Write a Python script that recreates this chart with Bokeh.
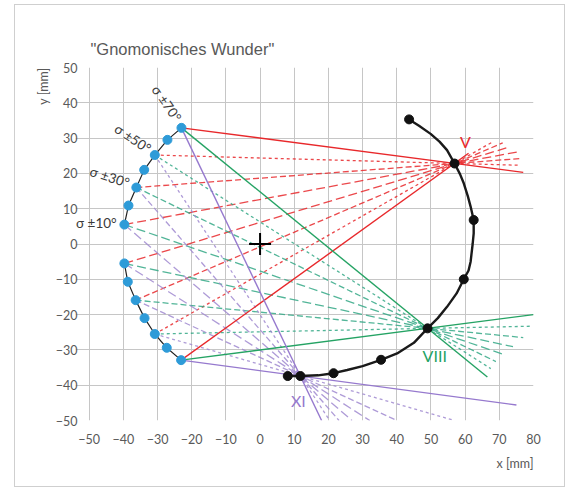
import math
from bokeh.plotting import figure
from bokeh.models import FixedTicker, Label, Title
from bokeh.embed import file_html
from bokeh.resources import INLINE

# ---------------- data ----------------
sigma_deg = [70, 60, 50, 40, 30, 20, 10]
upper_x = [-23.0, -27.1, -30.8, -33.9, -36.2, -38.5, -39.7]
upper_y = [32.9, 29.5, 25.2, 21.0, 16.0, 10.9, 5.5]
lower_x = [-39.7, -38.7, -36.4, -33.8, -30.8, -27.3, -23.1]
lower_y = [-5.5, -10.7, -15.9, -21.0, -25.5, -29.4, -32.9]

curve_x = [43.6, 46.5, 49.9, 52.5, 54.7, 56.9, 58.5, 59.6, 60.8, 61.6, 62.5,
           62.5, 62.2, 61.6, 61.0, 59.6, 57.5, 54.7, 52.0, 49.0, 45.0, 40.1,
           35.4, 30.0, 25.5, 21.5, 17.0, 11.8, 8.1]
curve_y = [35.3, 33.5, 31.2, 29.0, 26.6, 22.8, 19.8, 17.2, 13.5, 10.6, 6.8,
           3.0, 0.0, -5.0, -7.5, -10.0, -14.0, -17.8, -21.0, -23.9, -28.0, -31.0,
           -32.8, -34.6, -35.7, -36.6, -37.2, -37.4, -37.4]
dot_x = [43.6, 56.9, 62.5, 59.6, 49.0, 35.4, 21.5, 11.8, 8.1]
dot_y = [35.3, 22.8, 6.8, -10.0, -23.9, -32.8, -36.6, -37.4, -37.4]

hour_names = ["V", "VIII", "XI"]
hour_x = [56.9, 49.0, 11.8]
hour_y = [22.8, -23.9, -37.4]

# rays start at sigma +70, +50, +30, +10, -10, -30, -50, -70
ray_sigma = [70, 50, 30, 10, 10, 30, 50, 70]
ray_x0 = [-23.0, -30.8, -36.2, -39.7, -39.7, -36.4, -30.8, -23.1]
ray_y0 = [32.9, 25.2, 16.0, 5.5, -5.5, -15.9, -25.5, -32.9]
red_x1 = [77.0, 76.0, 76.0, 76.0, 73.0, 71.0, 68.0, 61.0]
red_y1 = [20.3, 22.3, 24.2, 26.2, 27.5, 28.65, 28.9, 25.7]
green_x1 = [66.5, 67.5, 69.0, 71.0, 74.0, 77.0, 79.0, 80.0]
green_y1 = [-37.7, -35.3, -33.3, -31.2, -29.1, -26.5, -23.3, -20.0]
purple_x1 = [18.0, 20.4, 23.1, 26.9, 32.1, 40.0, 56.9, 75.0]
purple_y1 = [-50.0, -50.0, -50.0, -50.0, -50.0, -50.0, -50.0, -45.6]

sigma_labels = ["σ ±70°", "σ ±50°", "σ ±30°", "σ ±10°"]
sigma_label_x = [-27.3, -37.2, -44.0, -47.9]
sigma_label_y = [39.8, 29.9, 19.0, 5.9]
sigma_label_angle = [-55, -34, -18, 0]

x_ticks = list(range(-50, 81, 10))
y_ticks = list(range(-50, 51, 10))

# ---------------- styling ----------------
GRAY = "#595959"
GRID = "#c6c6c6"
RED = "#E8282B"
GREEN_S, GREEN_D = "#25A364", "#34A886"
PURPLE_S, PURPLE_D = "#9679CE", "#A08AD0"
BLUE = "#2E9BD8"
DASH = {70: "solid", 50: "3 3", 30: "6 3", 10: "9 4"}

p = figure(width=551, height=483, x_range=(-54, 80), y_range=(-50, 50),
           output_backend="svg", toolbar_location=None,
           min_border_left=60, min_border_right=33,
           min_border_top=62, min_border_bottom=68)
p.styles = {"border": "1px solid #cfcfcf", "margin-left": "14px",
            "margin-top": "4px"}

p.title.text = '"Gnomonisches Wunder"'
p.title.text_font = "Liberation Sans"
p.title.text_font_size = "16.5px"
p.title.text_font_style = "normal"
p.title.text_color = GRAY
p.title.align = "left"
p.title.offset = 15
p.title.standoff = 19

for ax, ticks, so in ((p.xaxis, x_ticks, 13), (p.yaxis, y_ticks, -2)):
    ax.ticker = FixedTicker(ticks=ticks)
    ax.major_label_text_font = "Lato"
    ax.major_label_text_font_size = "12.5px"
    ax.major_label_text_color = GRAY
    ax.axis_line_color = None
    ax.major_tick_line_color = None
    ax.minor_tick_line_color = None
    ax.major_tick_out = 0
    ax.major_tick_in = 0
    ax.major_label_standoff = so

p.xgrid.grid_line_color = GRID
p.ygrid.grid_line_color = GRID
p.xgrid.bounds = (-50, 50)
p.ygrid.bounds = (-50, 80)
p.outline_line_color = None
p.background_fill_color = "white"
p.border_fill_color = "white"

p.add_layout(Title(text="x [mm]", align="right", text_font="Lato",
                   text_font_size="12.5px", text_font_style="normal",
                   text_color=GRAY, standoff=14), "below")
p.add_layout(Title(text="y [mm]", align="right", text_font="Lato",
                   text_font_size="12.5px", text_font_style="normal",
                   text_color=GRAY, standoff=4), "left")

families = [
    (red_x1, red_y1, RED, RED),
    (green_x1, green_y1, GREEN_S, GREEN_D),
    (purple_x1, purple_y1, PURPLE_S, PURPLE_D),
]

# dashed rays first
for x1, y1, c_s, c_d in families:
    for s in (10, 30, 50):
        idx = [i for i, v in enumerate(ray_sigma) if v == s]
        p.segment(x0=[ray_x0[i] for i in idx], y0=[ray_y0[i] for i in idx],
                  x1=[x1[i] for i in idx], y1=[y1[i] for i in idx],
                  line_color=c_d, line_width=1.3, line_alpha=0.85,
                  line_dash=DASH[s])
# solid rays
for x1, y1, c_s, c_d in families:
    idx = [i for i, v in enumerate(ray_sigma) if v == 70]
    p.segment(x0=[ray_x0[i] for i in idx], y0=[ray_y0[i] for i in idx],
              x1=[x1[i] for i in idx], y1=[y1[i] for i in idx],
              line_color=c_s, line_width=1.4)

# left arcs through the sigma points
p.line(upper_x, upper_y, line_color="#222222", line_width=1.2)
p.line(lower_x, lower_y, line_color="#222222", line_width=1.2)
p.scatter(upper_x + lower_x, upper_y + lower_y, size=9,
          fill_color=BLUE, line_color=BLUE)

# right curve
p.line(curve_x, curve_y, line_color="#1a1a1a", line_width=2.4)
p.scatter(dot_x, dot_y, size=9, fill_color="#111111", line_color="#111111")

# origin cross
p.scatter([0], [0], marker="cross", size=22, line_width=2, line_color="black")

# sigma labels
for t, x, y, a in zip(sigma_labels, sigma_label_x, sigma_label_y, sigma_label_angle):
    p.add_layout(Label(x=x, y=y, text=t, angle=math.radians(a),
                       text_align="center", text_baseline="middle",
                       text_font="Lato", text_font_size="13.5px",
                       text_color="#3a3a3a"))

# hour labels
hour_label_x = [60.1, 51.1, 11.2]
hour_label_y = [29.0, -31.7, -44.2]
hour_colors = [RED, GREEN_S, PURPLE_S]
for t, x, y, c in zip(hour_names, hour_label_x, hour_label_y, hour_colors):
    p.add_layout(Label(x=x, y=y, text=t, text_align="center",
                       text_baseline="middle", text_font="Lato",
                       text_font_size="16px", text_color=c))

open("out.html", "w").write(file_html(p, INLINE))
